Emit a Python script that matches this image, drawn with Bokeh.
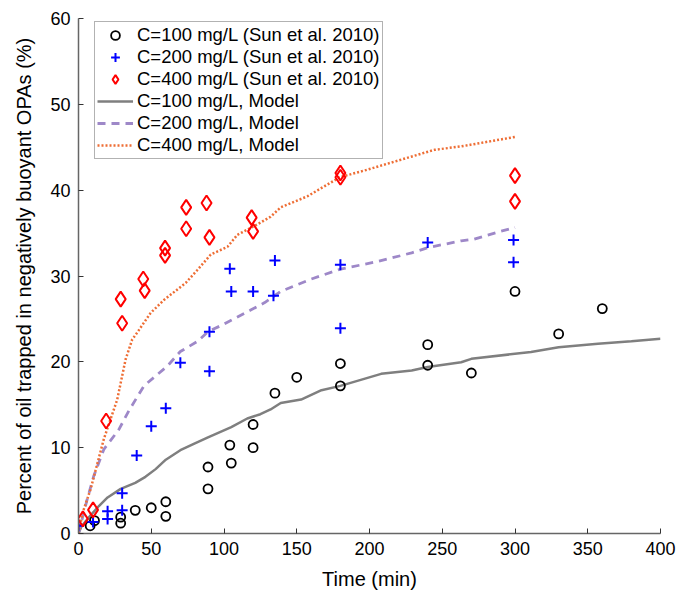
from bokeh.plotting import figure
from bokeh.models import Legend, LegendItem, Range1d, FixedTicker
from bokeh.embed import file_html
from bokeh.resources import INLINE

# Experimental data (Sun et al. 2010)
t100 = [8, 11, 29, 29, 39, 50, 60, 60, 89, 89, 104, 105, 120, 120, 135, 150, 180, 180, 240, 240, 270, 300, 330, 360]
y100 = [0.9, 1.5, 1.9, 1.2, 2.7, 3.0, 3.7, 2.0, 5.2, 7.75, 10.3, 8.2, 12.7, 10.0, 16.35, 18.2, 19.8, 17.2, 22.0, 19.6, 18.7, 28.2, 23.25, 26.2]

t200 = [0, 10, 20, 20, 30, 30, 40, 50, 60, 70, 90, 90, 104, 105, 120, 134, 135, 180, 180, 240, 299, 299]
y200 = [0.9, 1.35, 2.6, 1.7, 2.7, 4.7, 9.1, 12.5, 14.6, 19.9, 18.9, 23.5, 30.85, 28.2, 28.2, 27.7, 31.8, 31.3, 23.9, 33.9, 34.2, 31.6]

t400 = [3, 10, 19, 29, 30, 44.5, 45.5, 59.5, 59.5, 74, 74, 88, 90, 119, 120, 180, 180, 300, 300]
y400 = [1.7, 2.75, 13.1, 27.3, 24.5, 29.65, 28.3, 33.25, 32.4, 38.0, 35.5, 38.5, 34.5, 36.8, 35.2, 42.0, 41.5, 41.7, 38.7]

# Model curves
mt100 = [0, 2, 8, 14, 20, 29, 39, 46, 53, 60, 70, 80, 89, 105, 116, 125, 132, 139, 153, 167, 180, 194, 208, 229, 240, 263, 270, 311, 330, 357, 380, 400]
my100 = [0, 0.8, 2.05, 3.2, 4.2, 5.2, 5.9, 6.6, 7.5, 8.6, 9.7, 10.5, 11.2, 12.4, 13.4, 13.9, 14.45, 15.2, 15.6, 16.7, 17.2, 17.9, 18.6, 19.0, 19.4, 19.95, 20.35, 21.15, 21.7, 22.1, 22.4, 22.7]

mt200 = [0, 3, 6, 10.5, 17.4, 27.7, 34.6, 45, 61, 70, 82, 89, 100, 118, 128, 139, 160, 180, 206, 229, 240, 263, 272, 290, 300]
my200 = [0, 2.0, 4.0, 6.7, 9.8, 12.1, 14.3, 17.2, 19.5, 21.2, 22.4, 23.5, 24.4, 26.0, 26.9, 28.2, 29.65, 30.8, 31.7, 32.7, 33.3, 34.1, 34.3, 35.2, 35.65]

mt400 = [0, 3, 8.3, 17.4, 26.6, 32.4, 36.9, 40.3, 49.6, 58.7, 73.7, 81.7, 90.9, 102.4, 109.2, 122.8, 132, 139, 157.5, 179.5, 198.8, 228.6, 244.6, 263, 300]
my400 = [0, 2.5, 5.15, 11.0, 15.6, 20.3, 22.6, 23.4, 25.7, 27.2, 29.2, 30.7, 32.5, 33.4, 34.8, 36.0, 36.9, 38.0, 39.3, 41.5, 42.4, 43.9, 44.7, 45.1, 46.2]

x_ticks = [0, 50, 100, 150, 200, 250, 300, 350, 400]
y_ticks = [0, 10, 20, 30, 40, 50, 60]

labels = ["C=100 mg/L (Sun et al. 2010)", "C=200 mg/L (Sun et al. 2010)", "C=400 mg/L (Sun et al. 2010)",
          "C=100 mg/L, Model", "C=200 mg/L, Model", "C=400 mg/L, Model"]

FONT = "Liberation Sans"

p = figure(width=691, height=592, output_backend="svg", toolbar_location=None,
           x_range=Range1d(0, 400), y_range=Range1d(0, 60),
           min_border_left=78, min_border_right=31, min_border_top=18, min_border_bottom=58)

p.outline_line_color = None
p.grid.visible = False
p.background_fill_color = "white"
p.border_fill_color = "white"

l1 = p.line(mt100, my100, line_color="#7f7f7f", line_width=2.5)
l2 = p.line(mt200, my200, line_color="#9e88c8", line_width=2.8, line_dash="8 6")
l3 = p.line(mt400, my400, line_color="#ee6e35", line_width=2.5, line_dash="2 2")

s1 = p.scatter(t100, y100, marker="circle", size=9, fill_color=None, line_color="black", line_width=1.8)
s2 = p.scatter(t200, y200, marker="cross", size=11, line_color="#0000ff", line_width=2)
s3 = p.scatter(t400, y400, marker="diamond", size=15, fill_color=None, line_color="#ff0000", line_width=2)

for ax, ticks in ((p.xaxis[0], x_ticks), (p.yaxis[0], y_ticks)):
    ax.ticker = FixedTicker(ticks=ticks)
    ax.minor_tick_line_color = None
    ax.major_tick_in = 5
    ax.major_tick_out = 0
    ax.axis_line_color = "#666666"
    ax.axis_line_width = 1.5
    ax.major_tick_line_color = "#333333"
    ax.major_label_text_font = FONT
    ax.major_label_text_font_size = "18px"
    ax.major_label_text_color = "black"
    ax.axis_label_text_font = FONT
    ax.axis_label_text_font_size = "20px"
    ax.axis_label_text_font_style = "normal"
    ax.axis_label_text_color = "black"

p.xaxis.axis_label = "Time (min)"
p.yaxis.axis_label = "Percent of oil trapped in negatively buoyant OPAs (%)"
p.xaxis.major_label_standoff = 8
p.xaxis.axis_label_standoff = 10
p.yaxis.major_label_standoff = 8
p.yaxis.axis_label_standoff = 12

legend = Legend(items=[
    LegendItem(label=labels[0], renderers=[s1]),
    LegendItem(label=labels[1], renderers=[s2]),
    LegendItem(label=labels[2], renderers=[s3]),
    LegendItem(label=labels[3], renderers=[l1]),
    LegendItem(label=labels[4], renderers=[l2]),
    LegendItem(label=labels[5], renderers=[l3]),
], location=(16, 374))
legend.label_text_font = FONT
legend.label_text_font_size = "18.5px"
legend.label_text_color = "black"
legend.glyph_width = 36
legend.glyph_height = 22
legend.label_height = 22
legend.label_standoff = 4
legend.spacing = 0
legend.padding = 2
legend.margin = 0
legend.border_line_color = "#666666"
legend.border_line_width = 1.2
legend.background_fill_alpha = 1.0
p.add_layout(legend, "center")

open("out.html", "w").write(file_html(p, INLINE))
